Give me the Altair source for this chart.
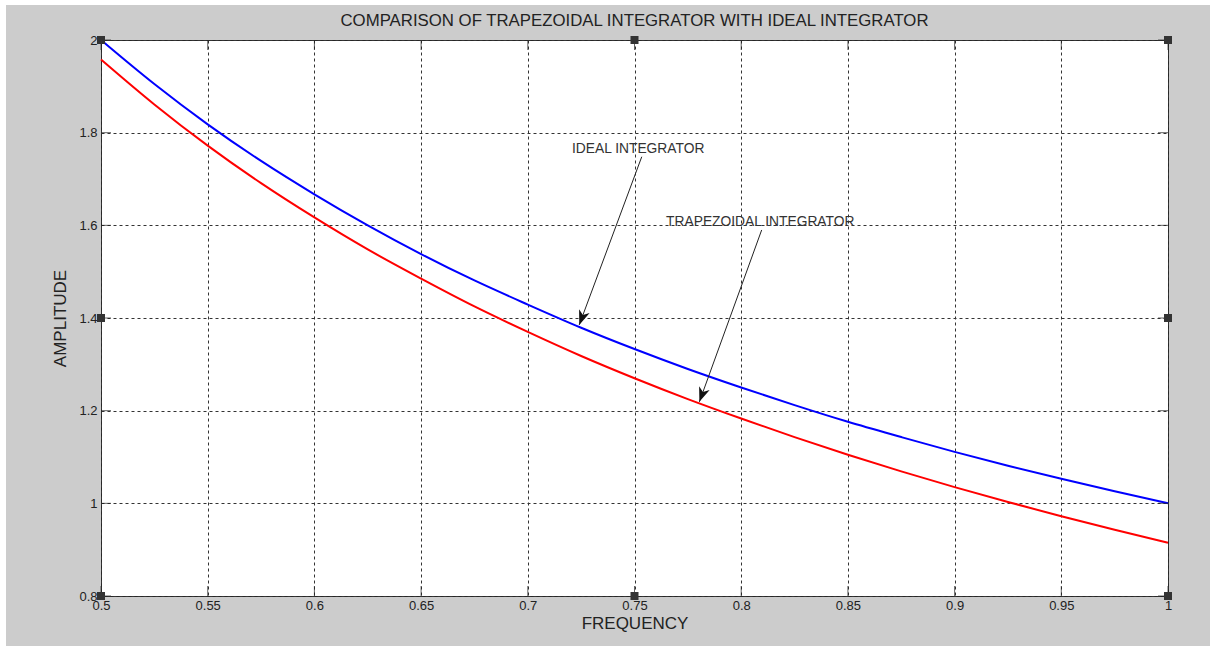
import math
import altair as alt
import pandas as pd

# Frequency grid and the two amplitude responses
freq = [0.500, 0.525, 0.550, 0.575, 0.600, 0.625, 0.650, 0.675, 0.700, 0.725, 0.750,
        0.775, 0.800, 0.825, 0.850, 0.875, 0.900, 0.925, 0.950, 0.975, 1.000]
ideal = [2.000, 1.905, 1.818, 1.739, 1.667, 1.600, 1.538, 1.481, 1.429, 1.379, 1.333,
         1.290, 1.250, 1.212, 1.176, 1.143, 1.111, 1.081, 1.053, 1.026, 1.000]
trap = [1.958, 1.861, 1.772, 1.691, 1.617, 1.548, 1.485, 1.425, 1.370, 1.318, 1.270,
        1.225, 1.183, 1.143, 1.105, 1.069, 1.035, 1.003, 0.972, 0.943, 0.915]

x_ticks = [0.5, 0.55, 0.6, 0.65, 0.7, 0.75, 0.8, 0.85, 0.9, 0.95, 1.0]
y_ticks = [0.8, 1.0, 1.2, 1.4, 1.6, 1.8, 2.0]

TITLE = "COMPARISON OF TRAPEZOIDAL INTEGRATOR WITH IDEAL INTEGRATOR"

# Annotation labels and arrows (start -> tip, in data units)
note_text = ["IDEAL INTEGRATOR", "TRAPEZOIDAL INTEGRATOR"]
note_x = [0.7207, 0.7648]
note_y = [1.765, 1.607]
arrow_x0 = [0.7534, 0.8096]
arrow_y0 = [1.748, 1.590]
arrow_x1 = [0.7241, 0.7804]
arrow_y1 = [1.385, 1.219]

# Figure-handle squares on the axes box
handle_x = [0.5, 0.75, 1.0, 0.5, 1.0, 0.5, 0.75, 1.0]
handle_y = [2.0, 2.0, 2.0, 1.4, 1.4, 0.8, 0.8, 0.8]

W, H = 1067, 556
FONT = "Liberation Sans"
INK = "#222222"

xs = alt.Scale(domain=[0.5, 1.0], nice=False, zero=False)
ys = alt.Scale(domain=[0.8, 2.0], nice=False, zero=False)

x_axis = alt.Axis(values=x_ticks, format="~g", title="FREQUENCY", ticks=False, domain=False,
                  grid=True, gridDash=[3, 3], gridColor="#333333", gridOpacity=1,
                  labelFont=FONT, labelFontSize=13, labelColor=INK, labelPadding=3,
                  labelFlush=False, labelOverlap=False,
                  titleFont=FONT, titleFontSize=17, titleFontWeight="normal",
                  titleColor=INK, titlePadding=3)
y_axis = alt.Axis(values=y_ticks, format="~g", title="AMPLITUDE", ticks=False, domain=False,
                  grid=True, gridDash=[3, 3], gridColor="#333333", gridOpacity=1,
                  labelFont=FONT, labelFontSize=13, labelColor=INK, labelPadding=4,
                  labelFlush=False, labelOverlap=False,
                  titleFont=FONT, titleFontSize=17, titleFontWeight="normal",
                  titleColor=INK, titlePadding=9)


def X(field):
    return alt.X(f"{field}:Q", scale=xs, axis=x_axis)


def Y(field):
    return alt.Y(f"{field}:Q", scale=ys, axis=y_axis)


curves = pd.DataFrame({"freq": freq, "ideal": ideal, "trap": trap})

ideal_line = alt.Chart(curves).mark_line(
    color="#0000ff", strokeWidth=2, interpolate="monotone"
).encode(x=X("freq"), y=Y("ideal"))
trap_line = alt.Chart(curves).mark_line(
    color="#ff0000", strokeWidth=2, interpolate="monotone"
).encode(x=X("freq"), y=Y("trap"))

# Inward tick marks on all four sides
xt = pd.DataFrame({"t": x_ticks})
yt = pd.DataFrame({"t": y_ticks})
tick_style = dict(color="#222222", thickness=1, size=10)
ticks_bottom = alt.Chart(xt).mark_tick(orient="vertical", **tick_style).encode(
    x=X("t"), y=alt.value(H - 5))
ticks_top = alt.Chart(xt).mark_tick(orient="vertical", **tick_style).encode(
    x=X("t"), y=alt.value(5))
ticks_left = alt.Chart(yt).mark_tick(orient="horizontal", **tick_style).encode(
    y=Y("t"), x=alt.value(5))
ticks_right = alt.Chart(yt).mark_tick(orient="horizontal", **tick_style).encode(
    y=Y("t"), x=alt.value(W - 5))

# Annotations
notes = pd.DataFrame({"label": note_text, "x": note_x, "y": note_y})
note_marks = alt.Chart(notes).mark_text(
    align="left", baseline="middle", font=FONT, fontSize=13.8, color="#333333"
).encode(x=X("x"), y=Y("y"), text="label:N")

angles = []
for a, b, c, d in zip(arrow_x0, arrow_y0, arrow_x1, arrow_y1):
    dx = (c - a) / 0.5 * W
    dy = -(d - b) / 1.2 * H
    angles.append(math.degrees(math.atan2(-dx, dy)) % 360)
arrows = pd.DataFrame({"x0": arrow_x0, "y0": arrow_y0, "x1": arrow_x1,
                       "y1": arrow_y1, "ang": angles})
arrow_lines = alt.Chart(arrows).mark_rule(color="#222222", strokeWidth=1).encode(
    x=X("x0"), y=Y("y0"), x2="x1:Q", y2="y1:Q")
arrow_heads = alt.Chart(arrows).mark_point(
    shape="M0,0 L-0.8,-2.1 L0,-1.5 L0.8,-2.1 Z",
    filled=True, size=196, color="#111111", opacity=1, strokeWidth=0
).encode(x=X("x1"), y=Y("y1"), angle=alt.Angle("ang:Q", scale=None))

handles = pd.DataFrame({"x": handle_x, "y": handle_y})
handle_marks = alt.Chart(handles).mark_square(
    size=64, color="#333333", filled=True, opacity=1
).encode(x=X("x"), y=Y("y"))

# Thin white border around the grey figure window
one = pd.DataFrame({"k": [0]})
border_left = alt.Chart(one).mark_rect(color="white").encode(
    x=alt.value(-101), x2=alt.value(-95), y=alt.value(-40), y2=alt.value(H + 50))
border_top = alt.Chart(one).mark_rect(color="white").encode(
    x=alt.value(-101), x2=alt.value(W + 47), y=alt.value(-40), y2=alt.value(-35))
border_right = alt.Chart(one).mark_rect(color="white").encode(
    x=alt.value(W + 42), x2=alt.value(W + 47), y=alt.value(-40), y2=alt.value(H + 50))

# Figure title, centred over the axes box
title_mark = alt.Chart(pd.DataFrame({"t": [TITLE]})).mark_text(
    align="center", baseline="middle", font=FONT, fontSize=16.8, color=INK
).encode(x=alt.value(W / 2), y=alt.value(-19), text="t:N")

chart = alt.layer(
    ideal_line, trap_line,
    ticks_bottom, ticks_top, ticks_left, ticks_right,
    arrow_lines, arrow_heads, note_marks, handle_marks,
    border_left, border_top, border_right, title_mark,
).properties(
    width=W, height=H,
    autosize="none",
    padding={"left": 101, "top": 40, "right": 47, "bottom": 50},
    background="#cccccc",
).configure_view(fill="white", stroke="#262626", strokeWidth=1)

chart.save("out.html", embed_options={"renderer": "svg", "actions": False})
